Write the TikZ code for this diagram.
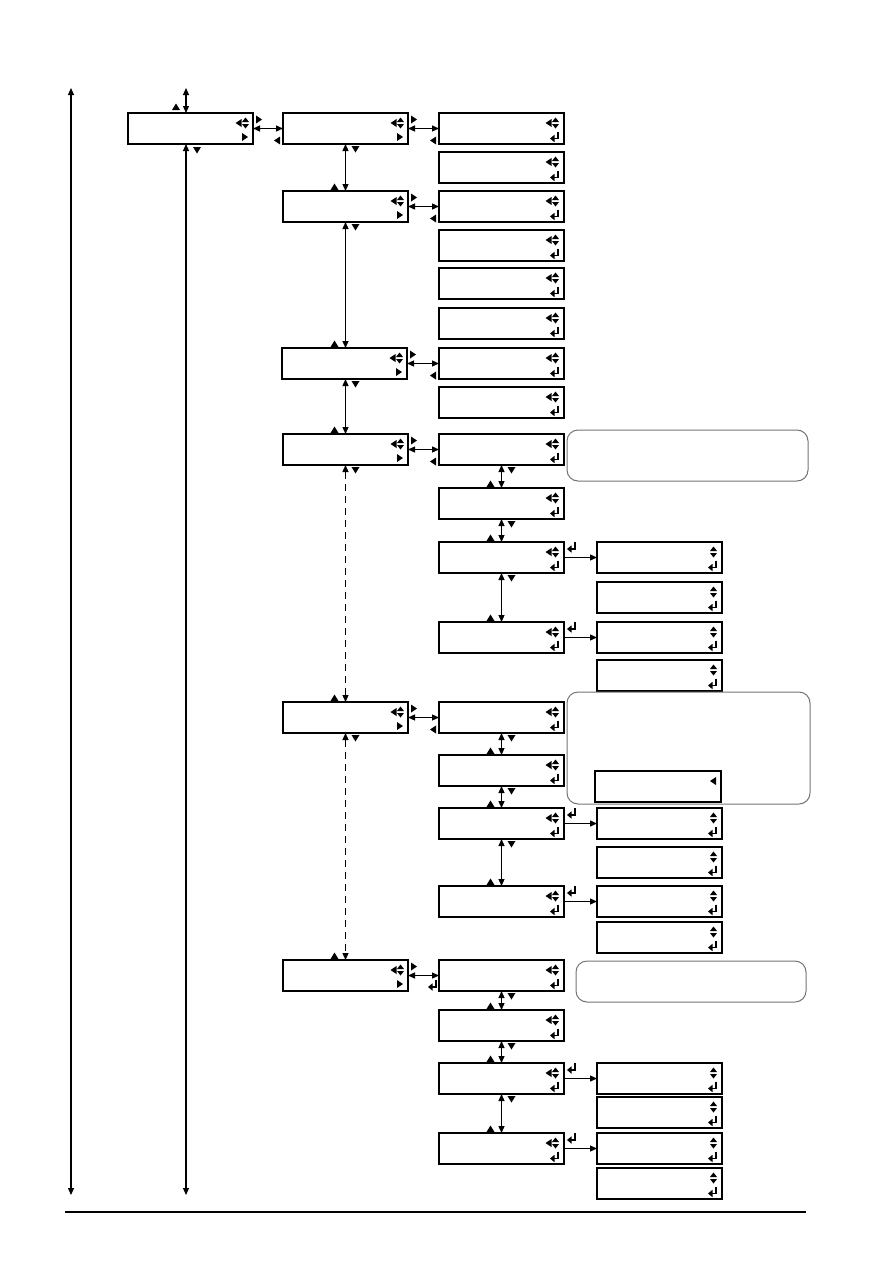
\documentclass[tikz,border=0pt]{standalone}
\usetikzlibrary{arrows.meta,calc}
\tikzset{
 dbox/.style={draw, line width=1.3pt, anchor=north west, minimum width=125pt, minimum height=31pt, inner sep=0pt, outer sep=0pt},
 conn/.style={line width=1.2pt, {Triangle[length=7pt,width=6pt]}-{Triangle[length=7pt,width=6pt]}},
 oneway/.style={line width=1.2pt, -{Triangle[length=7pt,width=6pt]}},
 dashlink/.style={dash pattern=on 7pt off 5pt},
 callout/.style={draw=black!55, line width=1pt, rounded corners=11pt, anchor=north west, inner sep=0pt, outer sep=0pt},
 pics/lt/.style={code={\fill (-3,0) -- (3,-4) -- (3,4) -- cycle;}},
 pics/rt/.style={code={\fill (3,0) -- (-3,-4) -- (-3,4) -- cycle;}},
 pics/up/.style={code={\fill (0,-3.5) -- (-4,3) -- (4,3) -- cycle;}},
 pics/dn/.style={code={\fill (0,3.5) -- (-4,-3) -- (4,-3) -- cycle;}},
 pics/ud/.style={code={\fill (0,-5.5) -- (-3.5,-1) -- (3.5,-1) -- cycle; \fill (0,5.5) -- (-3.5,1) -- (3.5,1) -- cycle;}},
 pics/ret/.style={code={\draw[line width=1.1pt] (3,-5.5) -- (3,1.5) -- (-1,1.5); \fill (-5,1.5) -- (-0.5,-2.2) -- (-0.5,5.2) -- cycle;}},
}
\newcommand\topbox[3]{\node[dbox] (#1) at (#2,#3) {};
 \pic at ($(#1.north east)+(-14.5,10)$) {lt};
 \pic at ($(#1.north east)+(-7.5,10)$) {ud};
 \pic at ($(#1.north east)+(-8,24)$) {rt};}
\newcommand\midbox[3]{\node[dbox] (#1) at (#2,#3) {};
 \pic at ($(#1.north east)+(-15.5,10)$) {lt};
 \pic at ($(#1.north east)+(-8.5,10)$) {ud};
 \pic at ($(#1.north east)+(-9,24)$) {ret};}
\newcommand\subbox[3]{\node[dbox] (#1) at (#2,#3) {};
 \pic at ($(#1.north east)+(-8.5,10)$) {ud};
 \pic at ($(#1.north east)+(-9,24)$) {ret};}
\newcommand\vlink[3][]{\draw[conn,#1] (#2.south) -- (#3.north);
 \pic at ($(#2.south)+(10,5)$) {dn};
 \pic at ($(#3.north)+(-11,-4)$) {up};}
\newcommand\hlink[2]{\draw[conn] (#1.east) -- (#2.west);
 \pic at ($(#1.east)+(6,-9)$) {rt};
 \pic at ($(#2.west)+(-6,12)$) {lt};}
\newcommand\enterlink[2]{\draw[oneway] (#1.east) -- (#2.west);
 \pic at ($(#1.east)+(8,-10)$) {ret};}
\begin{document}
\begin{tikzpicture}[x=1pt,y=-1pt]
\useasboundingbox (0,0) rectangle (893,1263);
% level 0
\topbox{L0}{128}{113}
% level 1
\topbox{A}{283}{113}
\topbox{B}{283}{191}
\topbox{C}{282}{348}
\topbox{D}{283}{434}
\topbox{E}{283}{702}
\topbox{F}{283}{960}
% level 2
\midbox{a1}{439}{113}
\midbox{a2}{439}{152}
\midbox{b1}{439}{191}
\midbox{b2}{439}{230}
\midbox{b3}{439}{268}
\midbox{b4}{439}{308}
\midbox{c1}{439}{348}
\midbox{c2}{439}{387}
\midbox{d1}{439}{434}
\midbox{d2}{439}{488}
\midbox{d3}{439}{542}
\midbox{d4}{439}{622}
\midbox{e1}{439}{702}
\midbox{e2}{439}{755}
\midbox{e3}{439}{808}
\midbox{e4}{439}{886}
\midbox{f1}{439}{960}
\midbox{f2}{439}{1010}
\midbox{f3}{439}{1063}
\midbox{f4}{439}{1133}
% level 3
\subbox{s1}{597}{542}
\subbox{s2}{597}{582}
\subbox{s3}{597}{622}
\subbox{s4}{597}{660}
\subbox{s5}{597}{808}
\subbox{s6}{597}{847}
\subbox{s7}{597}{886}
\subbox{s8}{597}{922}
\subbox{s9}{597}{1063}
\subbox{s10}{597}{1097}
\subbox{s11}{597}{1133}
\subbox{s12}{597}{1168}
% callouts
\node[callout, minimum width=241pt, minimum height=51pt] (k1) at (567,430) {};
\node[callout, minimum width=243pt, minimum height=112pt] (k2) at (567,692) {};
\node[callout, minimum width=230pt, minimum height=41pt] (k3) at (576,961) {};
\node[dbox, minimum width=126pt] (kb) at (595,771) {};
\pic at ($(kb.north east)+(-8,10)$) {lt};
% left long lines
\coordinate (la) at (71,88);
\coordinate (lb) at (71,1195);
\draw[conn] (la) -- (lb);
\coordinate (t0) at (186,88);
\draw[conn] (t0) -- (t0 |- L0.north);
\pic at (176,107) {up};
\coordinate (b0) at (186,1195);
\draw[conn] (b0 |- L0.south) -- (b0);
\pic at (197,150) {dn};
% horizontal links
\hlink{L0}{A}
\hlink{A}{a1}
\hlink{B}{b1}
\hlink{C}{c1}
\hlink{D}{d1}
\hlink{E}{e1}
\draw[conn] (F.east) -- (f1.west);
\pic at ($(F.east)+(6,-9)$) {rt};
\pic at ($(f1.west)+(-6,10)$) {ret};
% level 1 vertical links
\draw[conn] (A.south) -- (A.south |- B.north);
\pic at ($(A.south)+(10,5)$) {dn};
\pic at ($(A.south |- B.north)+(-11,-4)$) {up};
\draw[conn] (B.south) -- (B.south |- C.north);
\pic at ($(B.south)+(10,5)$) {dn};
\pic at ($(B.south |- C.north)+(-11,-4)$) {up};
\draw[conn] (C.south -| D.north) -- (D.north);
\pic at ($(C.south -| D.north)+(10,5)$) {dn};
\pic at ($(D.north)+(-11,-4)$) {up};
\vlink[dashlink]{D}{E}
\vlink[dashlink]{E}{F}
% level 2 vertical links
\vlink{d1}{d2}
\vlink{d2}{d3}
\vlink{d3}{d4}
\vlink{e1}{e2}
\vlink{e2}{e3}
\vlink{e3}{e4}
\vlink{f1}{f2}
\vlink{f2}{f3}
\vlink{f3}{f4}
% enter links
\enterlink{d3}{s1}
\enterlink{d4}{s3}
\enterlink{e3}{s5}
\enterlink{e4}{s7}
\enterlink{f3}{s9}
\enterlink{f4}{s11}
% bottom rule
\draw[line width=2.2pt] (65,1212) -- (806,1212);
\end{tikzpicture}
\end{document}
